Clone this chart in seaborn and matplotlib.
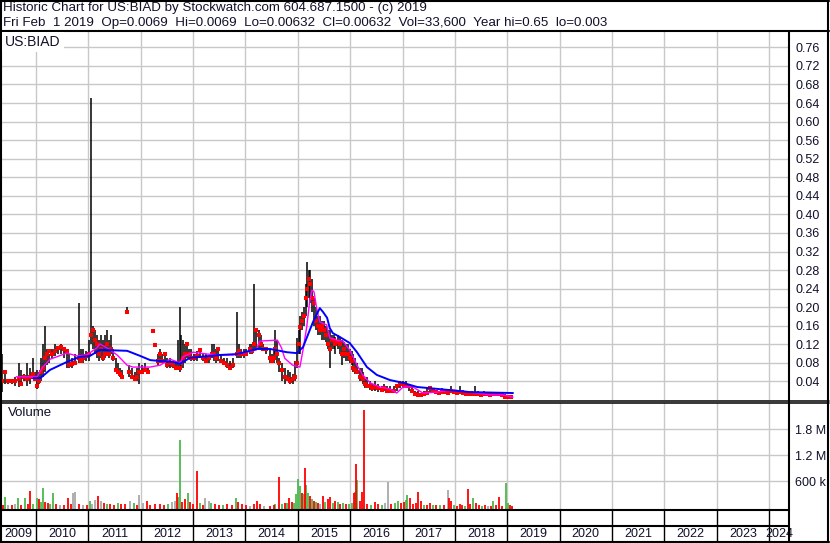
import numpy as np
import pandas as pd
import matplotlib
matplotlib.use("Agg")
import matplotlib.pyplot as plt
import seaborn as sns

# --- price bars: fractional year, high, low, close ---
bar_year = [2009.35, 2009.41, 2009.46, 2009.54, 2009.60, 2009.67, 2009.71, 2009.77, 2009.83, 2009.88,
            2009.94, 2009.98, 2010.02, 2010.06, 2010.10, 2010.13, 2010.17, 2010.21, 2010.25, 2010.31,
            2010.36, 2010.42, 2010.48, 2010.53, 2010.59, 2010.63, 2010.69, 2010.74, 2010.82, 2010.86,
            2010.90, 2010.96, 2011.02, 2011.05, 2011.09, 2011.13, 2011.17, 2011.21, 2011.24, 2011.28,
            2011.32, 2011.36, 2011.40, 2011.44, 2011.47, 2011.53, 2011.57, 2011.61, 2011.65, 2011.74,
            2011.78, 2011.83, 2011.89, 2011.93, 2011.97, 2012.02, 2012.08, 2012.14, 2012.23, 2012.27,
            2012.33, 2012.37, 2012.40, 2012.46, 2012.50, 2012.56, 2012.62, 2012.67, 2012.71, 2012.75,
            2012.77, 2012.81, 2012.84, 2012.88, 2012.92, 2012.96, 2013.02, 2013.07, 2013.13, 2013.19,
            2013.25, 2013.30, 2013.36, 2013.40, 2013.44, 2013.48, 2013.53, 2013.59, 2013.65, 2013.71,
            2013.76, 2013.84, 2013.88, 2013.92, 2013.97, 2014.02, 2014.08, 2014.13, 2014.17, 2014.21,
            2014.25, 2014.29, 2014.34, 2014.40, 2014.46, 2014.50, 2014.54, 2014.57, 2014.61, 2014.65,
            2014.69, 2014.75, 2014.81, 2014.86, 2014.90, 2014.94, 2014.98, 2015.02, 2015.04, 2015.08,
            2015.11, 2015.15, 2015.17, 2015.21, 2015.23, 2015.27, 2015.31, 2015.34, 2015.38, 2015.42,
            2015.46, 2015.50, 2015.53, 2015.57, 2015.61, 2015.65, 2015.69, 2015.72, 2015.76, 2015.80,
            2015.84, 2015.88, 2015.92, 2015.96, 2015.99, 2016.03, 2016.06, 2016.10, 2016.14, 2016.18,
            2016.22, 2016.25, 2016.29, 2016.33, 2016.37, 2016.42, 2016.48, 2016.54, 2016.60, 2016.65,
            2016.71, 2016.77, 2016.83, 2016.89, 2016.95, 2017.01, 2017.06, 2017.12, 2017.18, 2017.24,
            2017.29, 2017.35, 2017.41, 2017.47, 2017.53, 2017.58, 2017.64, 2017.70, 2017.76, 2017.81,
            2017.87, 2017.93, 2017.99, 2018.04, 2018.10, 2018.16, 2018.22, 2018.27, 2018.33, 2018.39,
            2018.45, 2018.50, 2018.56, 2018.62, 2018.68, 2018.73, 2018.79, 2018.85, 2018.90, 2018.96,
            2019.02, 2019.08]
bar_high = [0.100, 0.060, 0.045, 0.045, 0.050, 0.080, 0.065, 0.055, 0.080, 0.070,
            0.090, 0.060, 0.065, 0.060, 0.090, 0.120, 0.160, 0.110, 0.100, 0.110,
            0.120, 0.115, 0.120, 0.115, 0.110, 0.100, 0.090, 0.100, 0.210, 0.110,
            0.110, 0.105, 0.130, 0.650, 0.160, 0.150, 0.140, 0.130, 0.140, 0.130,
            0.140, 0.150, 0.130, 0.140, 0.110, 0.090, 0.080, 0.070, 0.065, 0.200,
            0.075, 0.070, 0.060, 0.070, 0.080, 0.075, 0.080, 0.070, 0.149, 0.120,
            0.100, 0.110, 0.100, 0.100, 0.090, 0.090, 0.085, 0.080, 0.130, 0.200,
            0.140, 0.130, 0.120, 0.125, 0.110, 0.110, 0.100, 0.105, 0.110, 0.100,
            0.100, 0.095, 0.120, 0.120, 0.110, 0.115, 0.100, 0.090, 0.090, 0.085,
            0.090, 0.190, 0.120, 0.110, 0.110, 0.110, 0.120, 0.120, 0.250, 0.150,
            0.150, 0.140, 0.120, 0.115, 0.110, 0.100, 0.110, 0.150, 0.130, 0.090,
            0.080, 0.070, 0.065, 0.060, 0.055, 0.085, 0.134, 0.150, 0.180, 0.190,
            0.200, 0.250, 0.297, 0.280, 0.280, 0.260, 0.220, 0.200, 0.180, 0.180,
            0.170, 0.170, 0.160, 0.150, 0.150, 0.140, 0.140, 0.135, 0.140, 0.135,
            0.130, 0.125, 0.120, 0.120, 0.110, 0.105, 0.100, 0.090, 0.080, 0.070,
            0.070, 0.060, 0.045, 0.050, 0.040, 0.035, 0.040, 0.035, 0.030, 0.035,
            0.030, 0.030, 0.030, 0.035, 0.040, 0.040, 0.040, 0.035, 0.030, 0.020,
            0.020, 0.015, 0.020, 0.025, 0.030, 0.025, 0.020, 0.020, 0.025, 0.020,
            0.022, 0.030, 0.022, 0.020, 0.030, 0.022, 0.020, 0.018, 0.020, 0.030,
            0.020, 0.018, 0.020, 0.016, 0.016, 0.015, 0.016, 0.016, 0.014, 0.012,
            0.010, 0.008]
bar_low = [0.018, 0.035, 0.035, 0.035, 0.030, 0.028, 0.030, 0.040, 0.030, 0.035,
           0.050, 0.040, 0.024, 0.035, 0.040, 0.050, 0.060, 0.075, 0.080, 0.090,
           0.095, 0.100, 0.100, 0.090, 0.070, 0.070, 0.070, 0.075, 0.080, 0.080,
           0.080, 0.085, 0.085, 0.120, 0.110, 0.100, 0.090, 0.085, 0.090, 0.085,
           0.090, 0.100, 0.090, 0.100, 0.085, 0.060, 0.055, 0.050, 0.045, 0.190,
           0.050, 0.045, 0.040, 0.040, 0.035, 0.055, 0.060, 0.055, 0.145, 0.115,
           0.075, 0.085, 0.080, 0.085, 0.070, 0.070, 0.070, 0.065, 0.065, 0.060,
           0.065, 0.070, 0.080, 0.090, 0.090, 0.085, 0.085, 0.085, 0.090, 0.085,
           0.080, 0.080, 0.090, 0.085, 0.080, 0.085, 0.080, 0.075, 0.070, 0.065,
           0.070, 0.090, 0.090, 0.090, 0.090, 0.095, 0.100, 0.100, 0.110, 0.110,
           0.110, 0.110, 0.105, 0.100, 0.080, 0.080, 0.080, 0.100, 0.080, 0.060,
           0.040, 0.035, 0.040, 0.035, 0.035, 0.040, 0.070, 0.100, 0.100, 0.150,
           0.160, 0.180, 0.200, 0.220, 0.210, 0.190, 0.160, 0.150, 0.140, 0.140,
           0.130, 0.130, 0.125, 0.110, 0.070, 0.110, 0.110, 0.100, 0.110, 0.100,
           0.075, 0.090, 0.085, 0.085, 0.080, 0.075, 0.060, 0.055, 0.055, 0.040,
           0.040, 0.035, 0.025, 0.025, 0.022, 0.020, 0.020, 0.018, 0.018, 0.020,
           0.015, 0.015, 0.015, 0.020, 0.025, 0.025, 0.025, 0.020, 0.015, 0.010,
           0.010, 0.010, 0.010, 0.012, 0.015, 0.015, 0.014, 0.012, 0.014, 0.014,
           0.014, 0.015, 0.014, 0.014, 0.015, 0.012, 0.012, 0.010, 0.010, 0.010,
           0.010, 0.010, 0.010, 0.010, 0.010, 0.010, 0.010, 0.008, 0.008, 0.006,
           0.005, 0.004]
bar_close = [0.040, 0.060, 0.040, 0.040, 0.040, 0.045, 0.035, 0.050, 0.045, 0.050,
             0.055, 0.045, 0.030, 0.040, 0.060, 0.070, 0.090, 0.100, 0.105, 0.100,
             0.105, 0.112, 0.115, 0.110, 0.105, 0.075, 0.078, 0.080, 0.090, 0.085,
             0.090, 0.095, 0.100, 0.140, 0.150, 0.130, 0.120, 0.100, 0.110, 0.090,
             0.100, 0.120, 0.100, 0.110, 0.090, 0.065, 0.060, 0.055, 0.050, 0.190,
             0.060, 0.050, 0.045, 0.050, 0.060, 0.060, 0.065, 0.060, 0.149, 0.118,
             0.085, 0.100, 0.085, 0.100, 0.075, 0.080, 0.075, 0.070, 0.070, 0.070,
             0.080, 0.090, 0.100, 0.120, 0.100, 0.090, 0.090, 0.095, 0.108, 0.090,
             0.085, 0.090, 0.100, 0.100, 0.090, 0.110, 0.085, 0.080, 0.075, 0.070,
             0.075, 0.100, 0.105, 0.100, 0.100, 0.100, 0.110, 0.105, 0.120, 0.150,
             0.140, 0.120, 0.110, 0.110, 0.090, 0.085, 0.090, 0.110, 0.100, 0.080,
             0.065, 0.050, 0.045, 0.040, 0.045, 0.050, 0.080, 0.120, 0.157, 0.170,
             0.180, 0.220, 0.240, 0.260, 0.250, 0.220, 0.210, 0.170, 0.160, 0.150,
             0.160, 0.150, 0.140, 0.120, 0.110, 0.130, 0.130, 0.120, 0.125, 0.120,
             0.100, 0.110, 0.100, 0.100, 0.090, 0.085, 0.070, 0.065, 0.060, 0.050,
             0.050, 0.045, 0.035, 0.030, 0.030, 0.025, 0.028, 0.025, 0.022, 0.025,
             0.020, 0.020, 0.020, 0.030, 0.035, 0.035, 0.030, 0.030, 0.020, 0.012,
             0.011, 0.011, 0.012, 0.015, 0.025, 0.020, 0.017, 0.016, 0.017, 0.017,
             0.016, 0.020, 0.017, 0.016, 0.018, 0.015, 0.014, 0.012, 0.013, 0.014,
             0.012, 0.011, 0.012, 0.012, 0.011, 0.012, 0.012, 0.012, 0.010, 0.007,
             0.006, 0.006]

# --- moving averages ---
ma_short_year = [2009.62, 2010.02, 2010.13, 2010.27, 2010.59, 2010.78, 2010.97, 2011.16, 2011.22, 2011.36,
                 2011.55, 2011.74, 2011.85, 2012.18, 2012.37, 2012.56, 2012.75, 2012.81, 2013.00, 2013.27,
                 2013.51, 2013.76, 2014.02, 2014.21, 2014.27, 2014.61, 2014.69, 2014.75, 2014.90, 2015.04,
                 2015.10, 2015.17, 2015.23, 2015.27, 2015.31, 2015.36, 2015.42, 2015.55, 2015.61, 2015.74,
                 2015.86, 2015.99, 2016.13, 2016.24, 2016.38, 2016.57, 2016.76, 2016.89, 2017.01, 2017.20,
                 2017.39, 2017.66, 2017.91, 2018.29, 2018.67, 2018.92, 2019.11]
ma_short = [0.050, 0.050, 0.071, 0.088, 0.101, 0.095, 0.097, 0.112, 0.121, 0.112,
            0.097, 0.075, 0.071, 0.071, 0.075, 0.088, 0.080, 0.093, 0.103, 0.099,
            0.097, 0.097, 0.103, 0.108, 0.127, 0.129, 0.112, 0.090, 0.075, 0.071,
            0.108, 0.157, 0.215, 0.237, 0.233, 0.198, 0.168, 0.162, 0.134, 0.129,
            0.127, 0.108, 0.075, 0.054, 0.037, 0.028, 0.024, 0.015, 0.028, 0.028,
            0.015, 0.017, 0.022, 0.017, 0.011, 0.011, 0.006]
ma_long_year = [2009.94, 2010.08, 2010.27, 2010.59, 2010.84, 2011.03, 2011.22, 2011.74, 2011.99, 2012.18,
                2012.37, 2012.62, 2012.75, 2012.94, 2013.13, 2013.51, 2013.84, 2014.22, 2014.47, 2014.79,
                2014.98, 2015.10, 2015.23, 2015.29, 2015.42, 2015.48, 2015.56, 2015.61, 2015.67, 2015.80,
                2015.99, 2016.13, 2016.32, 2016.51, 2016.76, 2017.01, 2017.28, 2017.66, 2018.29, 2019.11]
ma_long = [0.047, 0.047, 0.065, 0.082, 0.093, 0.095, 0.108, 0.106, 0.095, 0.086,
           0.084, 0.082, 0.078, 0.091, 0.093, 0.097, 0.099, 0.110, 0.110, 0.103,
           0.101, 0.114, 0.151, 0.168, 0.198, 0.190, 0.177, 0.155, 0.144, 0.136,
           0.123, 0.103, 0.071, 0.054, 0.043, 0.037, 0.028, 0.024, 0.017, 0.015]

# --- volume (millions of shares); g = up, r = down, k = unchanged ---
vol_year = [2009.37, 2009.41, 2009.46, 2009.54, 2009.60, 2009.66, 2009.71, 2009.79, 2009.85, 2009.88,
            2009.94, 2010.02, 2010.06, 2010.10, 2010.13, 2010.17, 2010.23, 2010.27, 2010.32, 2010.38,
            2010.46, 2010.53, 2010.61, 2010.67, 2010.71, 2010.74, 2010.82, 2010.90, 2010.97, 2011.03,
            2011.07, 2011.13, 2011.18, 2011.24, 2011.30, 2011.36, 2011.41, 2011.49, 2011.57, 2011.62,
            2011.70, 2011.79, 2011.87, 2011.93, 2011.97, 2012.04, 2012.12, 2012.18, 2012.27, 2012.37,
            2012.44, 2012.52, 2012.60, 2012.65, 2012.69, 2012.71, 2012.75, 2012.79, 2012.84, 2012.90,
            2012.94, 2013.00, 2013.07, 2013.13, 2013.19, 2013.23, 2013.30, 2013.34, 2013.42, 2013.50,
            2013.57, 2013.65, 2013.74, 2013.82, 2013.86, 2013.93, 2014.01, 2014.08, 2014.16, 2014.22,
            2014.27, 2014.35, 2014.47, 2014.54, 2014.57, 2014.64, 2014.69, 2014.75, 2014.79, 2014.83,
            2014.89, 2014.92, 2014.96, 2015.00, 2015.04, 2015.08, 2015.11, 2015.13, 2015.15, 2015.19,
            2015.23, 2015.27, 2015.31, 2015.34, 2015.38, 2015.42, 2015.48, 2015.52, 2015.57, 2015.61,
            2015.67, 2015.72, 2015.76, 2015.80, 2015.86, 2015.92, 2015.97, 2016.03, 2016.08, 2016.10,
            2016.12, 2016.14, 2016.18, 2016.22, 2016.27, 2016.33, 2016.39, 2016.47, 2016.53, 2016.60,
            2016.66, 2016.72, 2016.78, 2016.85, 2016.91, 2016.97, 2017.03, 2017.06, 2017.08, 2017.14,
            2017.20, 2017.26, 2017.30, 2017.35, 2017.41, 2017.47, 2017.53, 2017.58, 2017.64, 2017.72,
            2017.79, 2017.87, 2017.89, 2017.93, 2017.99, 2018.04, 2018.10, 2018.14, 2018.20, 2018.25,
            2018.29, 2018.35, 2018.41, 2018.47, 2018.52, 2018.58, 2018.64, 2018.69, 2018.73, 2018.79,
            2018.85, 2018.90, 2018.98, 2019.02, 2019.06, 2019.10]
vol_value = [0.05, 0.23, 0.05, 0.04, 0.07, 0.20, 0.05, 0.20, 0.06, 0.37,
             0.08, 0.20, 0.18, 0.12, 0.44, 0.12, 0.10, 0.08, 0.32, 0.06,
             0.05, 0.04, 0.20, 0.06, 0.33, 0.35, 0.07, 0.05, 0.04, 0.14,
             0.08, 0.17, 0.25, 0.15, 0.10, 0.08, 0.06, 0.05, 0.10, 0.08,
             0.06, 0.15, 0.10, 0.04, 0.28, 0.10, 0.13, 0.05, 0.06, 0.07,
             0.05, 0.06, 0.12, 0.15, 0.32, 0.22, 1.55, 0.12, 0.18, 0.32,
             0.12, 0.06, 0.83, 0.10, 0.05, 0.20, 0.15, 0.10, 0.06, 0.05,
             0.04, 0.07, 0.04, 0.20, 0.12, 0.06, 0.04, 0.03, 0.06, 0.14,
             0.08, 0.03, 0.03, 0.05, 0.08, 0.69, 0.08, 0.10, 0.10, 0.21,
             0.12, 0.10, 0.30, 0.64, 0.48, 0.33, 0.30, 0.90, 0.50, 0.32,
             0.25, 0.18, 0.14, 0.12, 0.10, 0.08, 0.26, 0.12, 0.18, 0.22,
             0.10, 0.15, 0.12, 0.08, 0.10, 0.08, 0.06, 0.10, 0.32, 0.35,
             1.00, 0.62, 0.15, 0.35, 2.24, 0.08, 0.05, 0.12, 0.06, 0.05,
             0.10, 0.57, 0.08, 0.10, 0.14, 0.10, 0.12, 0.16, 0.28, 0.20,
             0.06, 0.09, 0.35, 0.14, 0.05, 0.04, 0.10, 0.05, 0.04, 0.04,
             0.04, 0.39, 0.20, 0.15, 0.05, 0.03, 0.08, 0.04, 0.03, 0.41,
             0.08, 0.20, 0.10, 0.05, 0.03, 0.04, 0.03, 0.03, 0.14, 0.05,
             0.24, 0.03, 0.55, 0.10, 0.04, 0.03]
vol_dir = ["r", "g", "k", "r", "k", "g", "r", "g", "r", "r",
           "g", "g", "r", "g", "g", "r", "r", "g", "g", "r",
           "k", "r", "r", "r", "k", "k", "r", "k", "r", "g",
           "k", "k", "r", "k", "r", "g", "r", "r", "g", "r",
           "r", "k", "g", "r", "k", "k", "r", "r", "r", "r",
           "r", "g", "k", "k", "r", "g", "g", "r", "r", "g",
           "r", "r", "r", "g", "r", "k", "k", "g", "r", "r",
           "g", "r", "r", "g", "r", "r", "r", "k", "r", "r",
           "r", "k", "r", "r", "g", "r", "g", "r", "g", "r",
           "r", "g", "g", "g", "g", "r", "g", "r", "g", "g",
           "r", "g", "r", "g", "r", "k", "r", "g", "r", "r",
           "g", "r", "g", "r", "g", "r", "g", "g", "r", "g",
           "r", "g", "r", "r", "r", "r", "g", "r", "r", "g",
           "k", "k", "r", "g", "g", "r", "r", "g", "g", "r",
           "r", "r", "r", "r", "g", "r", "r", "g", "r", "g",
           "r", "k", "r", "r", "g", "r", "r", "r", "g", "r",
           "r", "g", "r", "r", "g", "r", "k", "r", "g", "r",
           "r", "r", "g", "g", "r", "r"]

years = list(range(2009, 2025))
price_ticks = [0.04, 0.08, 0.12, 0.16, 0.20, 0.24, 0.28, 0.32, 0.36, 0.40,
               0.44, 0.48, 0.52, 0.56, 0.60, 0.64, 0.68, 0.72, 0.76]
vol_ticks = [0.6, 1.2, 1.8]
vol_tick_labels = ["600 k", "1.2 M", "1.8 M"]

title_line1 = "Historic Chart for US:BIAD by Stockwatch.com 604.687.1500 - (c) 2019"
title_line2 = ("Fri Feb  1 2019  Op=0.0069  Hi=0.0069  Lo=0.00632  Cl=0.00632  "
               "Vol=33,600  Year hi=0.65  lo=0.003")

# ---------------------------------------------------------------
sns.set_style("white")
plt.rcParams['font.family'] = ['Liberation Sans', 'DejaVu Sans']

W, H = 830, 543
TXT = "#10102a"
GRID = "#c8c8c8"
fig = plt.figure(figsize=(W / 100, H / 100), dpi=100)
fig.patch.set_facecolor("white")


def px_axes(l, t, r, b, **kw):
    # axes placed in pixel coords (origin top-left)
    return fig.add_axes([l / W, 1 - b / H, (r - l) / W, (b - t) / H], **kw)


# x range: 2010 starts at px 36, 52.36 px per year, plot spans px 1..789
px_per_year = 52.36
x0 = 2010 - 35 / px_per_year
x1 = 2010 + 753 / px_per_year


def style_panel(ax):
    ax.set_xlim(x0, x1)
    ax.set_xticks(years[1:])
    ax.grid(True, color=GRID, lw=1.0)
    ax.set_axisbelow(True)
    ax.yaxis.tick_right()
    ax.tick_params(axis="x", length=0, labelbottom=False)
    ax.tick_params(axis="y", length=0, pad=4.5, labelsize=9, labelcolor=TXT)
    for s in ax.spines.values():
        s.set_visible(False)
    ax.set_xlabel("")
    ax.set_ylabel("")


# ---- price panel ----
ax = px_axes(1, 31, 789, 400)
ax.vlines(bar_year, bar_low, bar_high, color="black", lw=1.1, zorder=2)
sns.scatterplot(x=bar_year, y=bar_close, marker="s", s=5, color="#ff0000",
                linewidth=0, ax=ax, zorder=3)
sns.lineplot(x=ma_short_year, y=ma_short, color="#ff00ff", lw=1.0,
             estimator=None, sort=False, ax=ax, zorder=4)
sns.lineplot(x=ma_long_year, y=ma_long, color="#0000ff", lw=1.4,
             estimator=None, sort=False, ax=ax, zorder=5)
ax.set_ylim(0, 369 / 464)
ax.set_yticks(price_ticks)
ax.set_yticklabels([f"{v:.2f}" for v in price_ticks])
style_panel(ax)

# ---- volume panel ----
vax = px_axes(1, 403, 789, 509)
vol = pd.DataFrame({"year": vol_year, "vol": vol_value, "dir": vol_dir})
vcolors = {"g": "#4cb84c", "r": "#ff0000", "k": "#a8a8a8"}
vbottom = -0.046
for d, grp in vol.groupby("dir"):
    vax.vlines(grp["year"], vbottom, grp["vol"], color=vcolors[d], lw=1.3, zorder=2)
vax.set_ylim(vbottom, 2.4)
vax.set_yticks(vol_ticks)
vax.set_yticklabels(vol_tick_labels)
style_panel(vax)

# ---- date strip ----
dax = px_axes(1, 509, 789, 542)
dax.set_xlim(x0, x1)
dax.set_ylim(0, 1)
dax.axis("off")
for yr in years:
    if x0 < yr < x1:
        dax.axvline(yr, color="black", lw=1.0)
    lo, hi = max(yr, x0), min(yr + 1, x1)
    dax.text((lo + hi) / 2, 0.24, str(yr), ha="center", va="center",
             fontsize=9, color=TXT)

# ---- frame / header overlay ----
ov = fig.add_axes([0, 0, 1, 1], zorder=10)
ov.patch.set_alpha(0)
ov.set_xlim(0, W)
ov.set_ylim(H, 0)
ov.axis("off")
thick = 1.5
ov.plot([0, 829], [0.8, 0.8], color="black", lw=thick)
ov.plot([0, 829], [31, 31], color="black", lw=thick)
ov.plot([0.8, 0.8], [0, 543], color="black", lw=thick)
ov.plot([828.3, 828.3], [0, 543], color="black", lw=thick)
ov.plot([789, 789], [31, 543], color="black", lw=thick)
ov.plot([0, 829], [400.6, 400.6], color="black", lw=1.1)
ov.plot([0, 829], [403.2, 403.2], color="black", lw=1.1)
ov.plot([0, 789], [509.5, 509.5], color="black", lw=thick)
ov.plot([0, 789], [526.2, 526.2], color="black", lw=thick)
ov.plot([0, 829], [542, 542], color="black", lw=thick)

ov.text(3, 8.5, title_line1, fontsize=9.6, color=TXT, va="center", ha="left")
ov.text(3, 23, title_line2, fontsize=9.6, color=TXT, va="center", ha="left")
ov.text(5, 42, "US:BIAD", fontsize=10, color=TXT, va="center", ha="left",
        bbox=dict(facecolor="white", edgecolor="none", pad=2.5))
ov.text(8, 413, "Volume", fontsize=9.5, color=TXT, va="center", ha="left")

fig.savefig("out.png", dpi=100, facecolor="white")
